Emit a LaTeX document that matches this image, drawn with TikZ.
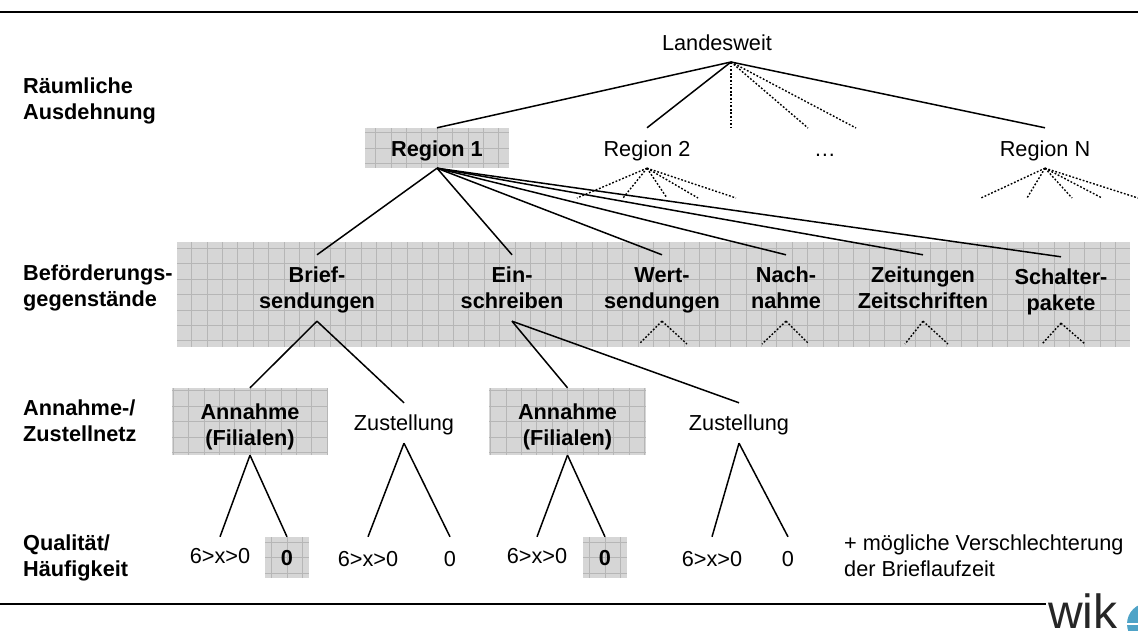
\documentclass[tikz,border=0pt]{standalone}
\usepackage{fontspec}
\setmainfont{Liberation Sans}
\usepackage{tikz}
\definecolor{bandgrey}{HTML}{D6D6D6}
\definecolor{gridgrey}{HTML}{B6B6B6}
\definecolor{wikblue}{HTML}{4FA3C7}
\begin{document}
\begin{tikzpicture}[x=1pt,y=1pt]
        \tikzset{label/.style = {align=center,anchor=base,inner sep=0pt,font=\fontsize{21.7}{26}\selectfont}};
        \tikzset{boldlabel/.style = {label,font=\fontsize{21.7}{26}\selectfont\bfseries}};
        \tikzset{rowlabel/.style = {boldlabel,align=left,anchor=base west}};
        \tikzset{span/.style 2 args = {text height=#1pt,text depth=#2pt}};
        \tikzset{gridbox/.style = {fill=bandgrey,inner sep=0pt,path picture={\draw[gridgrey,line width=0.5pt,step=15.4pt,shift={(9.1pt,3.7pt)}] (path picture bounding box.south west) grid (path picture bounding box.north east);}}};
        \tikzset{edge/.style = {line width=1.5pt}};
        \tikzset{dotedge/.style = {line width=1.4pt,dash pattern=on 1.8pt off 1.8pt}};
        \useasboundingbox (0,0) rectangle (1138,630);
        % rules
        \coordinate (topl) at (0,618);
        \coordinate (topr) at (1138,618);
        \coordinate (botl) at (0,26);
        \coordinate (botr) at (1046,26);
        \draw[line width=2.6pt] (topl) -- (topr);
        \draw[line width=2.6pt] (botl) -- (botr);
        % shaded backgrounds
        \node[gridbox,minimum width=953pt,minimum height=105pt] (band) at (653.5,335.5) {};
        \node[gridbox,minimum width=144pt,minimum height=40pt] (r1) at (437,482) {};
        \node[gridbox,minimum width=156pt,minimum height=67pt] (ann1) at (250,208.5) {};
        \node[gridbox,minimum width=157pt,minimum height=67pt] (ann2) at (567.5,208.5) {};
        \node[gridbox,minimum width=44pt,minimum height=41pt] (q2) at (287,72.5) {};
        \node[gridbox,minimum width=44pt,minimum height=41pt] (q6) at (605,72.5) {};
        % row labels
        \node[rowlabel] (raum) at (23,510) {Räumliche\\Ausdehnung};
        \node[rowlabel] (befo) at (23,323) {Beförderungs-\\gegenstände};
        \node[rowlabel] (netz) at (23,189) {Annahme-/\\Zustellnetz};
        \node[rowlabel] (qual) at (23,54) {Qualität/\\Häufigkeit};
        % top levels
        \node[label] (land) at (717,579) {Landesweit};
        \node[boldlabel] (r1text) at (437,473) {Region 1};
        \node[label,span={29}{11}] (r2) at (647,473) {Region 2};
        \node[label] (r3) at (825,473) {…};
        \node[label,span={29}{11}] (rn) at (1045,473) {Region N};
        % goods
        \node[boldlabel,span={54}{12}] (brief) at (317,321) {Brief-\\sendungen};
        \node[boldlabel,span={54}{12}] (ein) at (512,321) {Ein-\\schreiben};
        \node[boldlabel,span={54}{12}] (wert) at (662,321) {Wert-\\sendungen};
        \node[boldlabel,span={54}{12}] (nach) at (786,321) {Nach-\\nahme};
        \node[boldlabel,span={54}{12}] (zeit) at (923,321) {Zeitungen\\Zeitschriften};
        \node[boldlabel,span={54}{12}] (schalt) at (1061,319) {Schalter-\\pakete};
        % network
        \node[boldlabel] (ann1text) at (250,185) {Annahme\\(Filialen)};
        \node[label,span={27}{13}] (zu1) at (404,200) {Zustellung};
        \node[boldlabel] (ann2text) at (567.5,185) {Annahme\\(Filialen)};
        \node[label,span={27}{13}] (zu2) at (739,200) {Zustellung};
        % quality
        \node[label,span={26}{6}] (q1) at (220,67) {6>x>0};
        \node[boldlabel] (q2text) at (287,65) {0};
        \node[label,span={29}{6}] (q3) at (368,64) {6>x>0};
        \node[label,span={29}{6}] (q4) at (450,64) {0};
        \node[label,span={26}{6}] (q5) at (537,67) {6>x>0};
        \node[boldlabel] (q6text) at (605,65) {0};
        \node[label,span={29}{6}] (q7) at (712,64) {6>x>0};
        \node[label,span={29}{6}] (q8) at (788,64) {0};
        \node[label,align=left,anchor=base west] (note) at (844,54) {+ mögliche Verschlechterung\\der Brieflaufzeit};
        % logo
        \begin{scope}
          \clip (1040,0) rectangle (1138,40);
          \node[circle,fill=wikblue,minimum size=42pt,inner sep=0pt] (globe) at (1148,6) {};
          \draw[white,line width=1.5pt] (globe.west) -- (globe.east);
          \draw[white,line width=1.5pt] (globe.south west) -- (globe.north east);
        \end{scope}
        \node[anchor=base west,inner sep=0pt,text depth=0pt,font=\fontsize{48}{48}\selectfont,text=black!85] (wik) at (1048,2) {wik};
        % free line ends
        \coordinate (apex) at (731,568);
        \coordinate (dotb) at (731,502);
        \coordinate (dotc) at (808,502);
        \coordinate (dotd) at (856,502);
        \draw[edge] (apex) to (r1.north);
        \draw[edge] (apex) to (r2.north);
        \draw[edge] (apex) to (rn.north);
        \foreach \dotend in {dotb,dotc,dotd} \draw[dotedge] (apex) to (\dotend);
        \foreach \xend [count=\i] in {577,623,667,698,736} {
          \coordinate (rtwo\i) at (\xend,432);
          \draw[dotedge] (r2.south) to (rtwo\i);
        }
        \foreach \xend [count=\i] in {981,1027,1072,1102,1138} {
          \coordinate (rnn\i) at (\xend,432);
          \draw[dotedge] (rn.south) to (rnn\i);
        }
        \foreach \target in {brief,ein,wert,nach,zeit,schalt} \draw[edge] (r1.south) to (\target.north);
        \draw[edge] (brief.south) to (ann1.north);
        \draw[edge] (brief.south) to (zu1.north);
        \draw[edge] (ein.south) to (ann2.north);
        \draw[edge] (ein.south) to (zu2.north);
        \draw[edge] (ann1.south) to (q1.north);
        \draw[edge] (ann1.south) to (q2.north);
        \draw[edge] (zu1.south) to (q3.north);
        \draw[edge] (zu1.south) to (q4.north);
        \draw[edge] (ann2.south) to (q5.north);
        \draw[edge] (ann2.south) to (q6.north);
        \draw[edge] (zu2.south) to (q7.north);
        \draw[edge] (zu2.south) to (q8.north);
        % dotted stubs in band
        \foreach \good/\xa/\xb in {wert/639/687,nach/762/809,zeit/905/948,schalt/1042/1085} {
          \coordinate (\good l) at (\xa,286);
          \coordinate (\good r) at (\xb,286);
          \draw[dotedge] (\good.south) to (\good l);
          \draw[dotedge] (\good.south) to (\good r);
        }
    \end{tikzpicture}
\end{document}
